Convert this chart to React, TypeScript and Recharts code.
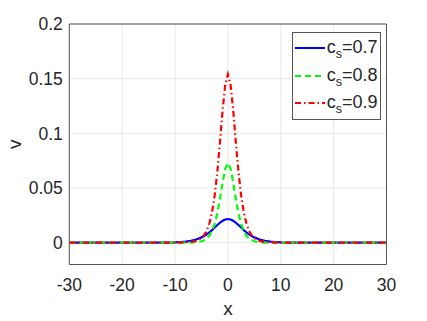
import { LineChart, Line, XAxis, YAxis, CartesianGrid, Legend, ReferenceArea } from 'recharts'

const xs = [-30, -25, -20, -15, -12, -10, -9, -8, -7, -6, -5, -4.5, -4, -3.5, -3, -2.5, -2, -1.5, -1, -0.5, 0,
  0.5, 1, 1.5, 2, 2.5, 3, 3.5, 4, 4.5, 5, 6, 7, 8, 9, 10, 12, 15, 20, 25, 30]

const v07 = [0, 0, 0, 0, 0.0001, 0.0003, 0.0006, 0.001, 0.0017, 0.0029, 0.0048, 0.0061, 0.0076, 0.0095, 0.0115, 0.0138, 0.0161, 0.0182, 0.02, 0.0212, 0.0216,
  0.0212, 0.02, 0.0182, 0.0161, 0.0138, 0.0115, 0.0095, 0.0076, 0.0061, 0.0048, 0.0029, 0.0017, 0.001, 0.0006, 0.0003, 0.0001, 0, 0, 0, 0]

const v08 = [0, 0, 0, 0, 0, 0, 0, 0, 0.0001, 0.0004, 0.0013, 0.0022, 0.0038, 0.0063, 0.0106, 0.0172, 0.0269, 0.0401, 0.055, 0.0677, 0.0728,
  0.0677, 0.055, 0.0401, 0.0269, 0.0172, 0.0106, 0.0063, 0.0038, 0.0022, 0.0013, 0.0004, 0.0001, 0, 0, 0, 0, 0, 0, 0, 0]

const v09 = [0, 0, 0, 0, 0, 0, 0.0001, 0.0002, 0.0006, 0.0015, 0.0041, 0.0067, 0.0109, 0.0175, 0.0278, 0.0432, 0.0647, 0.0919, 0.1211, 0.1448, 0.154,
  0.1448, 0.1211, 0.0919, 0.0647, 0.0432, 0.0278, 0.0175, 0.0109, 0.0067, 0.0041, 0.0015, 0.0006, 0.0002, 0.0001, 0, 0, 0, 0, 0, 0]

const xTicks = [-30, -20, -10, 0, 10, 20, 30]
const yTicks = [0, 0.05, 0.1, 0.15, 0.2]
const csLabels = ['0.7', '0.8', '0.9']

const data = xs.map((x, i) => ({ x, a: v07[i], b: v08[i], c: v09[i] }))

const series = [
  { key: 'a', color: '#0000ff', dash: undefined },
  { key: 'b', color: '#00ff00', dash: '6 4' },
  { key: 'c', color: '#ff0000', dash: '6 3 1.5 3' },
]

const font = '"Liberation Sans", Arial, sans-serif'
const ink = '#262626'

function LegendBox() {
  return (
    <div style={{ border: '1px solid #555', background: '#fff', width: 87, height: 86, fontFamily: font, color: ink }}>
      {series.map((s, i) => (
        <div key={s.key} style={{ display: 'flex', alignItems: 'center', height: 27.5, marginTop: i === 0 ? 2 : 0 }}>
          <svg width={34} height={10} style={{ flex: 'none' }}>
            <line x1={2} y1={5} x2={32} y2={5} stroke={s.color} strokeWidth={2} strokeDasharray={s.dash} />
          </svg>
          <span style={{ fontSize: 18, whiteSpace: 'nowrap', lineHeight: '18px' }}>
            c<span style={{ fontSize: 12.5, position: 'relative', top: 5 }}>s</span>={csLabels[i]}
          </span>
        </div>
      ))}
    </div>
  )
}

export default function App() {
  return (
    <div style={{ position: 'absolute', left: 0, top: 0, background: '#fff' }}>
      <LineChart
        width={427}
        height={321}
        data={data}
        margin={{ top: 24, right: 40.5, bottom: 4.5, left: 9.3 }}
        style={{ fontFamily: font }}
      >
        <CartesianGrid stroke="#e8e8e8" strokeWidth={1} vertical horizontal />
        <XAxis
          dataKey="x"
          type="number"
          domain={[-30, 30]}
          ticks={xTicks}
          allowDataOverflow
          height={52}
          axisLine={false}
          tickLine={false}
          tickSize={0}
          tickMargin={14.5}
          tick={{ fill: ink, fontSize: 17.5 }}
          label={{ value: 'x', position: 'insideBottom', offset: 2, fill: ink, fontSize: 19 }}
        />
        <YAxis
          type="number"
          domain={[-0.02, 0.2]}
          ticks={yTicks}
          allowDataOverflow
          width={60}
          axisLine={false}
          tickLine={false}
          tickSize={0}
          tickMargin={6.5}
          tick={{ fill: ink, fontSize: 17.5 }}
          label={{
            content: (props: any) => {
              const vb = props.viewBox
              const cx = vb.x + 4.7
              const cy = vb.y + vb.height / 2
              return (
                <text x={cx} y={cy} transform={`rotate(-90 ${cx} ${cy})`} textAnchor="middle" dominantBaseline="central" fill={ink} fontSize={19}>
                  v
                </text>
              )
            },
          }}
        />
        <ReferenceArea x1={-30} x2={30} y1={-0.02} y2={0.2} fill="none" stroke="#555" strokeWidth={1} ifOverflow="visible" />
        {series.map(s => (
          <Line
            key={s.key}
            dataKey={s.key}
            type="linear"
            stroke={s.color}
            strokeWidth={2.2}
            strokeDasharray={s.dash}
            dot={false}
            isAnimationActive={false}
          />
        ))}
        <Legend
          layout="vertical"
          align="center"
          verticalAlign="middle"
          wrapperStyle={{ left: 291.7, top: 31.7, width: 89, height: 88 }}
          content={() => <LegendBox />}
        />
      </LineChart>
    </div>
  )
}
